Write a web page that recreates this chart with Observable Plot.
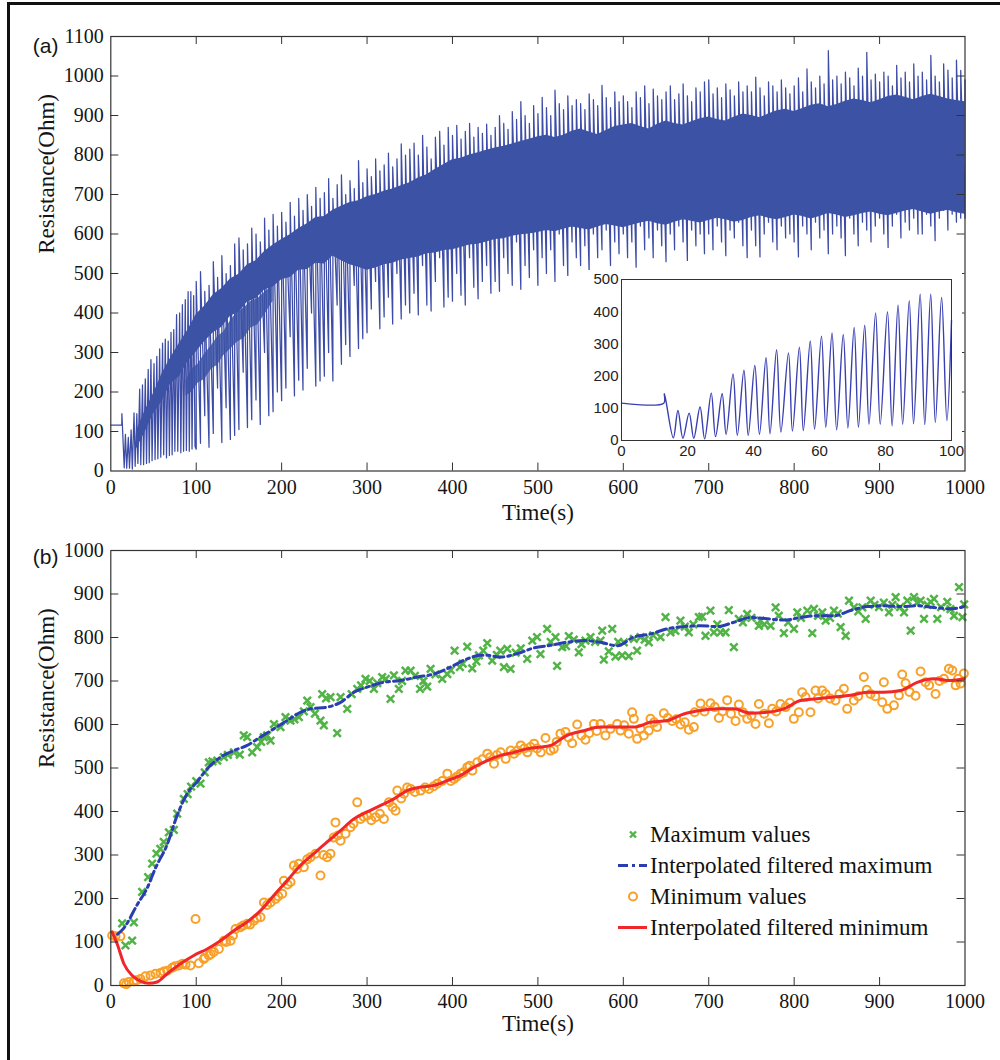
<!DOCTYPE html>
<html><head><meta charset="utf-8">
<script src="https://cdn.jsdelivr.net/npm/d3@7"></script>
<script src="https://cdn.jsdelivr.net/npm/@observablehq/plot@0.6"></script>
<style>
body{margin:0;background:#fff;}
#fig{position:relative;width:1000px;height:1060px;overflow:hidden;background:#fff;}
#border{position:absolute;left:7px;top:2px;width:1100px;height:1100px;border-left:3px solid #111;border-top:3px solid #111;pointer-events:none;}
.panel{position:absolute;left:0;}
.panel svg, #inset svg{overflow:visible;}
#legend{position:absolute;left:614px;top:819px;font-family:"Liberation Serif";font-size:23px;color:#111;}
.row{height:31px;display:flex;align-items:center;white-space:nowrap;}
.row svg{flex:none;}
</style></head><body>
<div id="fig">
 <div id="pa" class="panel" style="top:0"></div>
 <div id="inset" style="position:absolute;left:585px;top:270px;"></div>
 <div id="pb" class="panel" style="top:520px"></div>
 <div id="legend"></div>
 <div id="border"></div>
</div>
<script>
// ---------- tick labels ----------
const xTicks = [0,100,200,300,400,500,600,700,800,900,1000];
const yTicksA = [0,100,200,300,400,500,600,700,800,900,1000,1100];
const yTicksB = [0,100,200,300,400,500,600,700,800,900,1000];
const insetXTicks = [0,20,40,60,80,100];
const insetYTicks = [0,100,200,300,400,500];

// ---------- panel (a): first 100 s (inset), peaks and troughs ----------
const insetT = [0,12.8,13.0,15.7,17.1,18.6,20.5,21.9,23.8,25.2,27.2,28.5,30.5,31.7,33.8,35.1,37.1,38.4,40.4,41.8,43.8,45.0,47.0,48.3,50.6,51.8,53.9,55.1,57.2,58.5,60.6,61.9,63.8,65.2,67.2,68.6,70.5,71.8,73.7,75.0,77.0,78.4,80.6,82.0,83.8,85.2,87.2,88.5,90.5,91.9,93.7,95.1,97.0,98.6,100];
const insetV = [116,116,145,8,93,7,85,7,104,5,147,12,145,19,207,16,218,16,233,19,257,21,282,26,272,29,290,31,309,35,324,41,334,33,329,39,351,41,358,50,396,50,400,46,421,50,434,52,454,50,454,56,444,62,373];

// ---------- panel (a): cycles after 100 s (peak / trough per cycle) ----------
const cycleT = [100,105,110,115,120,125,130,135,140,145,150,155,160,165,170,175,180,185,190,195,200,205,210,215,220,225,230,235,240,245,250,255,260,265,270,275,280,285,290,295,300,305,310,315,320,325,330,335,340,345,350,355,360,365,370,375,380,385,390,395,400,405,410,415,420,425,430,435,440,445,450,455,460,465,470,475,480,485,490,495,500,505,510,515,520,525,530,535,540,545,550,555,560,565,570,575,580,585,590,595,600,605,610,615,620,625,630,635,640,645,650,655,660,665,670,675,680,685,690,695,700,705,710,715,720,725,730,735,740,745,750,755,760,765,770,775,780,785,790,795,800,805,810,815,820,825,830,835,840,845,850,855,860,865,870,875,880,885,890,895,900,905,910,915,920,925,930,935,940,945,950,955,960,965,970,975,980,985,990,995,1000];
const cycleHi = [
480,505,455,470,530,490,545,500,520,575,
590,560,575,615,600,580,640,610,650,620,
655,630,680,645,690,660,700,670,718,690,
705,740,690,725,750,700,735,715,786,730,
765,745,790,760,775,805,770,790,828,800,
815,830,800,850,820,790,845,860,825,870,
850,875,840,860,880,845,870,855,878,850,
870,900,880,865,910,890,935,900,880,925,
905,946,920,900,964,930,915,950,925,940,
930,915,955,940,925,976,945,920,960,935,
950,935,920,960,945,975,930,967,950,940,
960,975,940,955,980,950,935,970,960,985,
990,955,970,945,980,965,950,985,960,975,
960,997,970,950,985,975,960,990,970,955,
975,995,960,1018,985,970,1000,980,1064,990,
1000,980,1010,995,975,1020,1000,1060,990,1005,
985,1010,1000,975,1027,995,1010,985,1031,1000,
1010,990,1052,1000,985,1031,1015,995,1040,1014,
990];
const cycleLo = [
55,70,140,60,95,210,72,160,80,90,
105,250,110,130,180,118,300,140,150,200,
178,210,340,190,230,205,260,400,215,228,
240,300,228,420,270,320,290,470,310,335,
350,410,480,360,390,440,372,500,385,420,
400,450,395,520,420,405,480,540,415,440,
430,500,445,420,540,465,436,480,520,450,
480,455,540,500,470,580,460,520,490,560,
470,540,500,560,480,600,520,495,580,540,
520,570,499,600,540,560,610,520,580,550,
600,540,580,516,620,560,590,540,610,570,
530,600,560,620,580,533,610,570,600,550,
600,560,620,580,545,610,590,630,570,540,
610,570,542,600,630,580,560,620,590,600,
580,542,620,600,560,630,590,610,550,600,
620,590,545,640,600,570,630,610,580,620,
640,600,566,620,650,590,630,610,640,600,
600,650,620,583,640,660,610,650,630,640,
640];

// dense bands of panel (a)
const coreT  = [30,40,50,60,70,80,90,100,110,120,130,140,150,160,170,180,190,200,210,220,230,240,250,260,270,280,290,300,310,320,330,340,350,360,370,380,390,400,410,420,430,440,450,460,470,480,490,500,510,520,530,540,550,560,570,580,590,600,610,620,630,640,650,660,670,680,690,700,710,720,730,740,750,760,770,780,790,800,810,820,830,840,850,860,870,880,890,900,910,920,930,940,950,960,970,980,990,1000];
const coreLo = [55,98,145,176,220,238,276,301,328,350,364,392,402,428,436,458,466,484,490,508,510,526,524,544,532,522,516,
508,514,522,526,534,538,542,550,552,558,560,566,572,574,580,586,588,594,598,600,604,609,606,612,618,614,610,618,624,620,616,622,628,632,626,622,630,636,632,628,634,640,636,630,634,642,646,640,636,642,648,644,638,644,652,648,642,646,652,656,650,646,652,658,662,656,650,656,660,654,650];
const coreHi = [100,152,196,246,286,322,356,396,418,446,462,486,498,522,532,556,572,586,598,614,626,642,644,660,670,680,684,
694,700,708,714,722,730,742,750,764,776,788,792,800,806,812,818,822,828,834,840,846,850,844,850,860,866,858,852,862,872,876,880,872,866,878,886,880,876,884,892,896,890,886,896,904,900,894,904,912,916,910,918,926,930,922,928,936,942,938,932,940,948,952,946,940,948,954,948,942,938,935];
const lowBandT  = [88,95,102,110,118,125,132,140,148,156,164,172,180,190];
const lowBandLo = [190,200,222,232,258,268,292,308,326,336,362,370,395,430];
const lowBandHi = [228,258,270,296,318,340,352,380,402,412,430,436,452,470];

// ---------- panel (b) ----------
const maxT = [13.3,17.2,25,27,36.7,43.7,48.4,53.5,58,68,73.8,77.7,85.5,94,105,114.8,124.6,132.4,144.1,151,155.7,159.6,165.5,171.3,179.1,187,191,198.7,204.5,210.4,220.2,230,233.8,245.5,249.4,247.5,257.2,265,269,276.8,288.5,298.2,308,317.7,327.5,331.4,337.2,345,351,362,370.4,374.4,388,393.9,402.5,408.7,417.3,423.1,431,440.7,446.5,460.2,464.1,468,487.5,493.4,499,503,510.8,520.6,522.5,528.4,536.2,547.9,555.7,561.6,573.3,575.3,577.2,583,587,590.8,598.6,600.6,606.4,612.3,620.1,629.9,643.5,649.4,655.2,666.9,676.7,688.4,692.3,696.2,702,706,713.8,719.6,723.5,729.4,735.2,745,758.7,760.6,772.4,778.3,788,799.8,803.7,815.4,821.2,823.2,833,836.9,846.6,854.4,860.3,864.2,870,879.8,883.7,889.6,899.3,911,918.8,928.6,932.5,936.4,940.3,948,952,959.8,963.7,967.6,979.3,987.1,993,997,999,
62,90,100,110,119,137,176,183,215,226,239,252,282,293,303,312,322,341,356,366,380,398,412,428,436,452,456,474,480,515,533,542,551,567,594,616,625,635,661,672,682,710,740,750,765,782,793,808,828,842,851,875,894,905,915,924,944,956,972,983];
const maxV = [143,92,103,145,215,249,280,303,314,352,358,395,429,457,464,513,517,525,536,531,575,571,536,548,571,563,601,594,617,609,617,655,640,609,598,670,663,580,663,636,682,705,682,709,659,713,682,724,724,682,687,728,705,716,770,732,779,729,759,787,747,732,774,728,751,793,801,762,820,801,735,778,803,766,793,801,793,816,749,768,820,756,759,789,757,797,801,789,801,847,812,839,812,847,848,804,862,812,812,812,863,778,843,854,827,839,827,869,810,820,858,862,810,866,858,839,862,824,804,885,869,869,843,885,870,858,893,858,885,816,893,885,843,882,889,843,882,850,916,847,876,
330,440,470,490,515,530,560,575,612,630,625,660,670,690,700,695,705,700,712,700,715,725,740,745,770,760,770,765,775,790,780,795,785,790,790,770,795,805,815,825,830,830,835,845,830,850,835,845,850,845,855,860,875,880,875,870,880,875,870,865];

const minT = [1.6,5.5,11.3,15.3,21.1,27,34.7,40.6,46.5,52.3,58.2,66,71.9,79.7,87.5,93.3,99.2,103.1,108.9,114.8,120.6,126.5,132.4,140.2,146,151.9,159.7,167.5,175.3,179.2,187,192.9,200.7,202.6,210.4,214.3,220.2,226,233.8,239.7,245.5,253.3,257.2,263,269,274.8,280.7,288.5,292.4,300.2,310,319.7,325.6,333.4,335.4,343.2,351,362.7,372.5,382.3,394,401.8,409.6,417.4,423.3,429.1,440.8,448.6,456.4,462.3,468,472,479.9,487.7,491.3,495.5,503.3,508.9,514.7,518.6,526.4,532.3,540.1,546,555.7,565.5,573.3,579.1,592.8,596.7,606.4,610.3,612.3,616.2,624,629.8,631.8,639.6,647.4,657.2,667,676.7,682.6,683.5,690.4,702.1,711.9,721.6,731.4,735.3,745,754.8,758.7,770.4,774.3,784,799.6,805.5,809.4,813.3,819.1,825,832.8,836.7,848.4,858.2,862.1,869.9,881.6,889.4,903.1,905,909,916.8,922.6,926.5,930.4,942.1,948,953.8,965.5,975.3,981.2,985.1,989,994.8,998.7,
18,30,62,75,84,110,117,135,143,155,163,171,183,196,207,218,230,249,261,266,284,296,305,315,330,340,347,356,368,378,388,398,405,413,420,435,444,452,476,484,499,522,536,551,560,569,585,601,620,636,652,662,672,695,707,716,726,740,750,765,779,790,795,828,842,853,875,885,895,935,958,970,992];
const minV = [115,113,113,5,8,10,15,21,23,27,29,34,41,46,48,46,153,51,61,69,77,84,103,103,130,134,142,149,157,191,191,199,211,241,238,276,280,272,295,303,253,295,303,375,333,349,364,421,383,391,387,383,421,402,448,441,452,448,452,464,487,475,487,502,494,513,533,510,536,521,540,533,552,536,548,556,536,569,540,544,579,583,557,600,565,601,601,575,601,586,579,628,613,567,575,586,613,594,626,608,600,588,594,628,648,649,615,656,608,646,613,601,647,603,636,647,613,628,674,663,628,678,678,670,655,682,636,655,709,670,651,697,636,644,667,715,695,666,722,697,670,705,728,724,690,694,717,
3,12,32,44,50,64,72,100,115,138,140,155,185,205,232,268,290,300,340,345,372,388,380,395,410,430,455,445,455,458,470,470,480,490,505,520,525,530,540,545,545,560,570,575,580,585,590,598,590,605,615,612,605,630,640,630,625,628,620,625,630,640,650,660,660,670,665,680,665,675,690,700,705];

const blueT = [8,15.3,31,42.6,52.3,66,77.7,89.4,101,112.8,128.4,144,159.6,175,190.8,206.4,222,233.8,253.3,269,284.6,300.2,319.7,339.2,358.7,378.2,397.7,417.3,432.9,440.7,456.3,475.8,495.3,514.8,534,553.6,573,592.6,612.3,631.8,651.3,670.8,690.3,710,729.4,749,768.5,788,807.5,827,846.6,866,885.6,905,924.6,944,963.7,983.2,999];
const blueV = [118,132,186,224,270,324,391,441,468,498,525,540,552,571,590,609,628,636,640,651,674,686,697,701,709,716,732,751,759,759,755,763,776,782,789,793,789,781,801,808,820,825,827,825,835,846,843,840,846,850,850,862,871,873,871,873,869,866,871];

const redT = [1.6,7.4,15.3,25,34.7,44.4,54.2,66,81.6,97.2,112.8,128.4,144,159.6,175.3,190.8,206.4,222,237.6,253.3,268.9,284.5,300.2,315.8,331.4,347,362.7,378.3,393.9,409.5,425.1,440.7,456.3,472,487.5,503.2,514.9,534.2,553.7,573.3,592.8,612.3,631.8,651.3,670.8,690.4,709.9,729.4,748.9,768.4,788,807.5,827,846.5,866,885.6,905,924.6,944.1,963.6,983.1,998.8];
const redV = [123,96,50,23,10,5,8,27,50,69,84,103,126,146,172,207,241,276,303,330,356,383,399,414,429,448,456,460,471,483,502,517,529,536,544,548,552,575,586,594,594,594,605,609,624,632,636,636,626,628,636,655,659,663,667,674,674,678,697,705,701,705];

const legendLabels = ["Maximum values","Interpolated filtered maximum","Minimum values","Interpolated filtered minimum"];

// ---------- styles ----------
const serif = "Liberation Serif";
const sigColor = "#3d4ca6", denseColor = "#3b52a5", insetColor = "#3a3fb2";
const greenC = "#52b447", orangeC = "#f7a12a", blueC = "#2a3eb1", redC = "#f0262a";
const axisC = "#333", textC = "#151515";

// ---------- tables ----------
const mainData = [];
insetT.forEach((t, i) => { if (t < 100) mainData.push({t, v: insetV[i]}); });
cycleT.forEach((t, i) => { mainData.push({t, v: cycleLo[i]}); mainData.push({t, v: cycleHi[i]}); });
const coreA = coreT.map((t, i) => ({t, lo: coreLo[i], hi: coreHi[i]}));
const coreB = lowBandT.map((t, i) => ({t, lo: lowBandLo[i], hi: lowBandHi[i]}));
const insetData = insetT.map((t, i) => ({t, v: insetV[i]}));
const maxData = maxT.map((t, i) => ({t, v: maxV[i]}));
const minData = minT.map((t, i) => ({t, v: minV[i]}));
const blueData = blueT.map((t, i) => ({t, v: blueV[i]}));
const redData = redT.map((t, i) => ({t, v: redV[i]}));

const mL = 110.3, mR = 35.5, W = 1000;
function inTicks(xt, yt, ph, pw, len) {
  const xi = xt.slice(1, -1), yi = yt.slice(1, -1);
  return [
    Plot.tickX(xi, {x: d => d, insetTop: ph - len, stroke: axisC}),
    Plot.tickX(xi, {x: d => d, insetBottom: ph - len, stroke: axisC}),
    Plot.tickY(yi, {y: d => d, insetRight: pw - len, stroke: axisC}),
    Plot.tickY(yi, {y: d => d, insetLeft: pw - len, stroke: axisC})
  ];
}
function tickLabels(xt, yt, xdy) {
  return [
    Plot.text(xt, {x: d => d, text: d => String(d), frameAnchor: "bottom", lineAnchor: "top", dy: xdy, fontSize: 20, fontFamily: serif, fill: textC}),
    Plot.text(yt, {y: d => d, text: d => String(d), frameAnchor: "left", textAnchor: "end", dx: -7, fontSize: 20, fontFamily: serif, fill: textC})
  ];
}
const baseStyle = {fontFamily: serif, fontSize: "20px", color: textC, background: "transparent"};

// ---------- panel (a) ----------
const aH = 520, aT = 36, aB = 49.5;
const pa = Plot.plot({
  width: W, height: aH, marginTop: aT, marginBottom: aB, marginLeft: mL, marginRight: mR,
  x: {domain: [0, 1000], axis: null}, y: {domain: [0, 1100], axis: null},
  style: baseStyle,
  marks: [
    Plot.line(mainData, {x: "t", y: "v", stroke: sigColor, strokeWidth: 1.25}),
    Plot.areaY(coreA, {x: "t", y1: "lo", y2: "hi", fill: denseColor}),
    Plot.areaY(coreB, {x: "t", y1: "lo", y2: "hi", fill: denseColor, fillOpacity: 0.85}),
    Plot.frame({stroke: axisC, strokeWidth: 1.2}),
    ...inTicks(xTicks, yTicksA, aH - aT - aB, W - mL - mR, 8),
    ...tickLabels(xTicks, yTicksA, 9),
    Plot.text(["Time(s)"], {frameAnchor: "bottom", lineAnchor: "top", dy: 33, fontSize: 23, fontFamily: serif, fill: textC}),
    Plot.text(["Resistance(Ohm)"], {frameAnchor: "left", dx: -64, rotate: -90, fontSize: 23, fontFamily: serif, fill: textC}),
    Plot.text(["(a)"], {frameAnchor: "top-left", dx: -78, dy: 1.5, textAnchor: "start", fontFamily: "Liberation Sans", fontSize: 21, fill: textC})
  ]
});
document.getElementById("pa").appendChild(pa);

// ---------- inset ----------
const inset = Plot.plot({
  width: 377, height: 193, marginTop: 9, marginBottom: 23, marginLeft: 36, marginRight: 11,
  x: {domain: [0, 100]}, y: {domain: [0, 500]},
  style: {fontFamily: "Liberation Sans", fontSize: "15px", color: "#222", background: "#fff"},
  marks: [
    Plot.line(insetData, {x: "t", y: "v", stroke: insetColor, strokeWidth: 1.4, curve: "catmull-rom"}),
    Plot.frame({stroke: axisC}),
    Plot.axisX({ticks: insetXTicks, tickSize: 0, tickPadding: 5, label: null}),
    Plot.axisY({ticks: insetYTicks, tickSize: 0, tickPadding: 3, label: null})
  ]
});
document.getElementById("inset").appendChild(inset);

// ---------- panel (b) ----------
const bH = 540, bT = 30, bB = 75;
const pb = Plot.plot({
  width: W, height: bH, marginTop: bT, marginBottom: bB, marginLeft: mL, marginRight: mR,
  x: {domain: [0, 1000], axis: null}, y: {domain: [0, 1000], axis: null},
  style: baseStyle,
  marks: [
    Plot.dot(maxData, {x: "t", y: "v", symbol: "times", r: 3.5, stroke: greenC, strokeWidth: 2.5}),
    Plot.dot(minData, {x: "t", y: "v", symbol: "circle", r: 4, stroke: orangeC, strokeWidth: 2, fill: "none"}),
    Plot.line(blueData, {x: "t", y: "v", stroke: blueC, strokeWidth: 3, strokeDasharray: "10,4,3,4", curve: "monotone-x"}),
    Plot.line(redData, {x: "t", y: "v", stroke: redC, strokeWidth: 3, curve: "monotone-x"}),
    Plot.frame({stroke: axisC, strokeWidth: 1.2}),
    ...inTicks(xTicks, yTicksB, bH - bT - bB, W - mL - mR, 8),
    ...tickLabels(xTicks, yTicksB, 8),
    Plot.text(["Time(s)"], {frameAnchor: "bottom", lineAnchor: "top", dy: 29, fontSize: 23, fontFamily: serif, fill: textC}),
    Plot.text(["Resistance(Ohm)"], {frameAnchor: "left", dx: -64, rotate: -90, fontSize: 23, fontFamily: serif, fill: textC}),
    Plot.text(["(b)"], {frameAnchor: "top-left", dx: -78, dy: -1, textAnchor: "start", fontFamily: "Liberation Sans", fontSize: 21, fill: textC})
  ]
});
document.getElementById("pb").appendChild(pb);

// ---------- legend ----------
const swatches = [
  `<svg width="36" height="31"><path d="M16,12.5L22,18.5M16,18.5L22,12.5" stroke="${greenC}" stroke-width="2.4"/></svg>`,
  `<svg width="36" height="31"><line x1="4" y1="15.5" x2="33" y2="15.5" stroke="${blueC}" stroke-width="3" stroke-dasharray="10,4,3,4"/></svg>`,
  `<svg width="36" height="31"><circle cx="19" cy="15.5" r="4" fill="none" stroke="${orangeC}" stroke-width="2"/></svg>`,
  `<svg width="36" height="31"><line x1="4" y1="15.5" x2="33" y2="15.5" stroke="${redC}" stroke-width="3"/></svg>`
];
const leg = document.getElementById("legend");
legendLabels.forEach((lab, i) => {
  const row = document.createElement("div");
  row.className = "row";
  row.innerHTML = swatches[i] + `<span>${lab}</span>`;
  leg.appendChild(row);
});
</script>
</body></html>
